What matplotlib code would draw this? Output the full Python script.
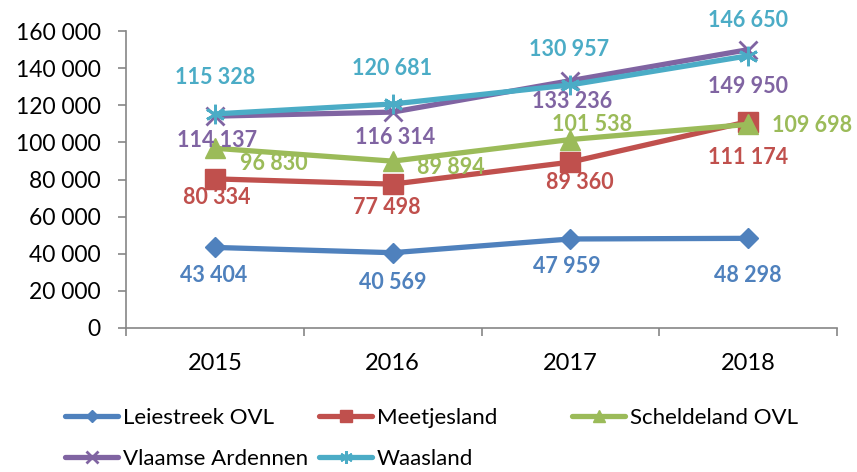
import matplotlib
matplotlib.use("Agg")
import matplotlib.pyplot as plt
from matplotlib.ticker import FuncFormatter, FixedLocator
import numpy as np

plt.rcParams['font.family'] = ['Lato', 'DejaVu Sans']

years = ["2015", "2016", "2017", "2018"]
series_names = ["Leiestreek OVL", "Meetjesland", "Scheldeland OVL", "Vlaamse Ardennen", "Waasland"]
leiestreek = [43404, 40569, 47959, 48298]
meetjesland = [80334, 77498, 89360, 111174]
scheldeland = [96830, 89894, 101538, 109698]
vlaamse_ardennen = [114137, 116314, 133236, 149950]
waasland = [115328, 120681, 130957, 146650]
yticks = [0, 20000, 40000, 60000, 80000, 100000, 120000, 140000, 160000]

series = [leiestreek, meetjesland, scheldeland, vlaamse_ardennen, waasland]

# styles
colors = ["#4F81BD", "#C0504D", "#9BBB59", "#8064A2", "#4BACC6"]
markers = ["D", "s", "^", "x", (6, 2, 0)]
msizes = [10, 14, 14, 13, 14]
mews = [1, 1, 1, 2, 2]
# label offsets in pixels (dx, dy down-positive)
offsets = [
    [(-1, 28), (0, 30), (-4, 28), (0, 37)],
    [(2, 19), (-6, 23), (9, 20), (0, 36)],
    [(59, 15), (58, 6), (22, -15), (64, 1)],
    [(2, 24), (2, 25), (2, 21), (0, 37)],
    [(0, -36), (-1, -35), (-1, -35), (0, -35)],
]

def fmt(v, pos=None):
    return f"{v:,.0f}".replace(",", " ")

fig = plt.figure(figsize=(8.57, 4.72), dpi=100)
ax = fig.add_axes([126/857, 1 - 328/472, (837-126)/857, (328-31)/472])

x = np.arange(len(years)) + 0.5
handles = []
for vals, name, c, m, ms, mew, offs in zip(series, series_names, colors, markers, msizes, mews, offsets):
    h, = ax.plot(x, vals, color=c, lw=3.8, marker=m, ms=ms, mew=mew, mec=c, mfc=c,
                 label=name, solid_capstyle='round', solid_joinstyle='round')
    handles.append(h)
    for xi, v, (dx, dy) in zip(x, vals, offs):
        ax.annotate(fmt(v), xy=(xi, v), xytext=(dx, -dy), textcoords='offset pixels',
                    ha='center', va='center', color=c, fontsize=15.5, fontweight='bold')

ax.set_xlim(0, len(years))
ax.set_ylim(0, 160000)
ax.yaxis.set_major_locator(FixedLocator(yticks))
ax.yaxis.set_major_formatter(FuncFormatter(fmt))
ax.set_xticks(np.arange(len(years) + 1))
ax.set_xticklabels([])
ax.set_xticks(x, labels=years, minor=True)
ax.tick_params(axis='x', which='minor', length=0, pad=18, labelsize=17)
ax.tick_params(axis='x', which='major', length=6, width=1.2, color='#868686', direction='out')
ax.tick_params(axis='y', which='major', length=6, width=1.2, color='#868686', direction='out',
               pad=12, labelsize=16.5)
for s in ['top', 'right']:
    ax.spines[s].set_visible(False)
for s in ['left', 'bottom']:
    ax.spines[s].set_color('#868686')
    ax.spines[s].set_linewidth(1.2)

cols = [[0, 3], [1, 4], [2]]
col_x = [65, 319, 572]
for idx, cx in zip(cols, col_x):
    fig.legend([handles[i] for i in idx], [series_names[i] for i in idx],
               loc='upper left', bbox_to_anchor=(cx/857, 1 - 408/472),
               frameon=False, fontsize=16, handlelength=2.4, handletextpad=0.2,
               borderpad=0, borderaxespad=0, labelspacing=0.95, markerscale=0.65,
               numpoints=1)

fig.savefig("out.png", dpi=100)
